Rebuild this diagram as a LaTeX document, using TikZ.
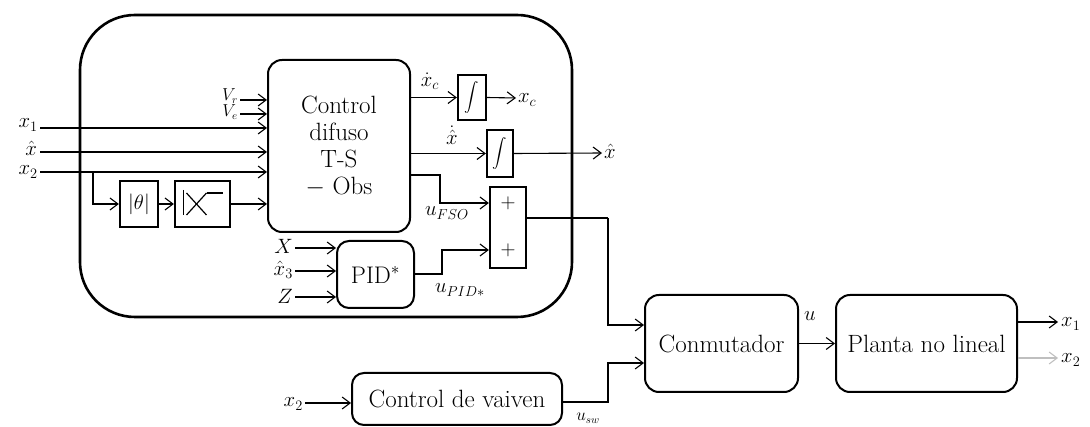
\documentclass[tikz,border=0pt]{standalone}
\usepackage{exscale}
\usetikzlibrary{arrows.meta,calc}
\begin{document}
\begin{tikzpicture}[x=1pt,y=-1pt,
 blk/.style={draw,line width=2pt,rounded corners=14pt,align=center,font=\fontsize{25}{27}\selectfont,inner sep=0pt},
 sq/.style={draw,line width=2.2pt,inner sep=0pt},
 con/.style={line width=1.1pt,-{Straight Barb[length=8pt,width=12pt,line width=1.1pt]}},
 ln/.style={line width=1.1pt},
 lab/.style={font=\fontsize{21}{24}\selectfont,inner sep=1pt},
 slab/.style={font=\fontsize{16}{18}\selectfont,inner sep=1pt},
 intg/.style={font=\fontsize{14}{16}\selectfont},
]
\useasboundingbox (0,0) rectangle (1090,427);
% outer block
\node[draw,line width=2.6pt,rounded corners=55pt,minimum width=492pt,minimum height=302pt] (outer) at (326,166) {};
% blocks
\node[blk,minimum width=142pt,minimum height=172pt] (fz) at (339,146) {Control\\difuso\\T-S\\$-$ Obs};
\node[sq,minimum width=28pt,minimum height=45pt,intg] (i1) at (472,97.5) {$\displaystyle\int$};
\node[sq,minimum width=26pt,minimum height=47pt,intg] (i2) at (500,153.5) {$\displaystyle\int$};
\node[sq,minimum width=36pt,minimum height=81pt] (sum) at (508,227.5) {};
\node[font=\fontsize{21}{24}\selectfont] (pl1) at (508,203) {$+$};
\node[font=\fontsize{21}{24}\selectfont] (pl2) at (508,250) {$+$};
\node[sq,minimum width=38pt,minimum height=46pt,font=\fontsize{21}{24}\selectfont] (th) at (139,204) {$|\theta|$};
\node[sq,minimum width=55pt,minimum height=46pt] (sat) at (202.5,204) {};
\draw[line width=1.2pt] ($(sat)+(-19,-14)$) -- ($(sat)+(-19,11)$);
\draw[line width=1.2pt] ($(sat)+(-16,-11)$) -- ($(sat)+(4,11)$);
\draw[line width=1.2pt] ($(sat)+(-16,11)$) -- ($(sat)+(4,-11)$);
\draw[line width=1.2pt] ($(sat)+(4,-11)$) -- ($(sat)+(20,-11)$);
\node[blk,rounded corners=12pt,minimum width=77pt,minimum height=67pt,font=\fontsize{24}{27}\selectfont] (pid) at (375.5,274.5) {PID$^{*}$};
\node[blk,rounded corners=12pt,minimum width=210pt,minimum height=52pt] (vai) at (457,399) {Control de vaiven};
\node[blk,minimum width=153pt,minimum height=97pt] (conm) at (721.5,343.5) {Conmutador};
\node[blk,minimum width=181pt,minimum height=97pt] (pl) at (926.5,343.5) {Planta no lineal};
% left inputs
\coordinate (vr) at (240,100);
\coordinate (ve) at (240,114);
\coordinate (ix1) at (40,128);
\coordinate (ixh) at (40,152);
\coordinate (ix2) at (40,172);
\coordinate (br) at (93,172);
\draw[con] (vr) -- (fz.west|-vr);
\draw[con] (ve) -- (fz.west|-ve);
\draw[con] (ix1) -- (fz.west|-ix1);
\draw[con] (ixh) -- (fz.west|-ixh);
\draw[con] (ix2) -- (fz.west|-ix2);
\draw[con] (br) |- (th.west);
\draw[con] (th.east) -- (sat.west);
\draw[con] (sat.east) -- (fz.west|-sat);
\node[slab,anchor=east] (lvr) at (239,96) {$V_r$};
\node[slab,anchor=east] (lve) at (239,112) {$V_e$};
\node[lab,anchor=east] (lx1) at (39,125) {$x_1$};
\node[lab,anchor=east] (lxh) at (38,148) {$\hat{x}$};
\node[lab,anchor=east] (lx2) at (39,172) {$x_2$};
% fuzzy outputs
\coordinate (xc) at (516,98);
\coordinate (xh) at (602,153);
\coordinate (b3) at (440,175);
\draw[con] (fz.east|-i1) -- (i1.west);
\draw[con] (i1.east) -- (xc);
\draw[con] (fz.east|-i2) -- (i2.west);
\draw[con] (i2.east) -- (xh);
\draw[con] (fz.east|-b3) -- (b3) |- (sum.west|-pl1);
\node[lab] (ldxc) at (430,81) {$\dot{x}_c$};
\node[lab,anchor=west] (lxc) at (517,100) {$x_c$};
\node[lab] (ldxh) at (452,135) {$\dot{\hat{x}}$};
\node[lab,anchor=west] (lxhat) at (603,151) {$\hat{x}$};
\node[lab] (lufso) at (447,213) {$u_{FSO}$};
% PID
\coordinate (pa) at (295,248);
\coordinate (pb) at (295,271);
\coordinate (pc) at (295,297);
\draw[con] (pa) -- (pid.west|-pa);
\draw[con] (pb) -- (pid.west|-pb);
\draw[con] (pc) -- (pid.west|-pc);
\node[lab,anchor=east] (lpa) at (294,246) {$X$};
\node[lab,anchor=east] (lpb) at (294,270) {$\hat{x}_3$};
\node[lab,anchor=east] (lpc) at (294,296) {$Z$};
\coordinate (b4) at (442,274);
\draw[con] (pid.east|-b4) -- (b4) |- (sum.west|-pl2);
\node[lab] (lupid) at (460,290) {$u_{PID*}$};
% sum to switch
\coordinate (so) at (608,218);
\coordinate (ci1) at (0,325);
\coordinate (ci2) at (0,363);
\coordinate (vo) at (608,402);
\draw[ln] (sum.east|-so) -- (so);
\draw[con] (so) |- (conm.west|-ci1);
\draw[con] (vai.east|-vo) -- (vo) |- (conm.west|-ci2);
\node[slab] (lusw) at (588,418) {$u_{sw}$};
\coordinate (vi) at (305,403);
\draw[con] (vi) -- (vai.west|-vi);
\node[lab,anchor=east] (lvx2) at (304,404) {$x_2$};
% switch to plant
\draw[con] (conm.east) -- (pl.west);
\node[lab] (lu) at (810,316) {$u$};
\coordinate (y1) at (1058,322);
\coordinate (y2) at (1058,358);
\draw[con] (pl.east|-y1) -- (y1);
\draw[con,gray!50] (pl.east|-y2) -- (y2);
\node[lab,anchor=west] (ly1) at (1060,324) {$x_1$};
\node[lab,anchor=west] (ly2) at (1060,360) {$x_2$};
\end{tikzpicture}
\end{document}
